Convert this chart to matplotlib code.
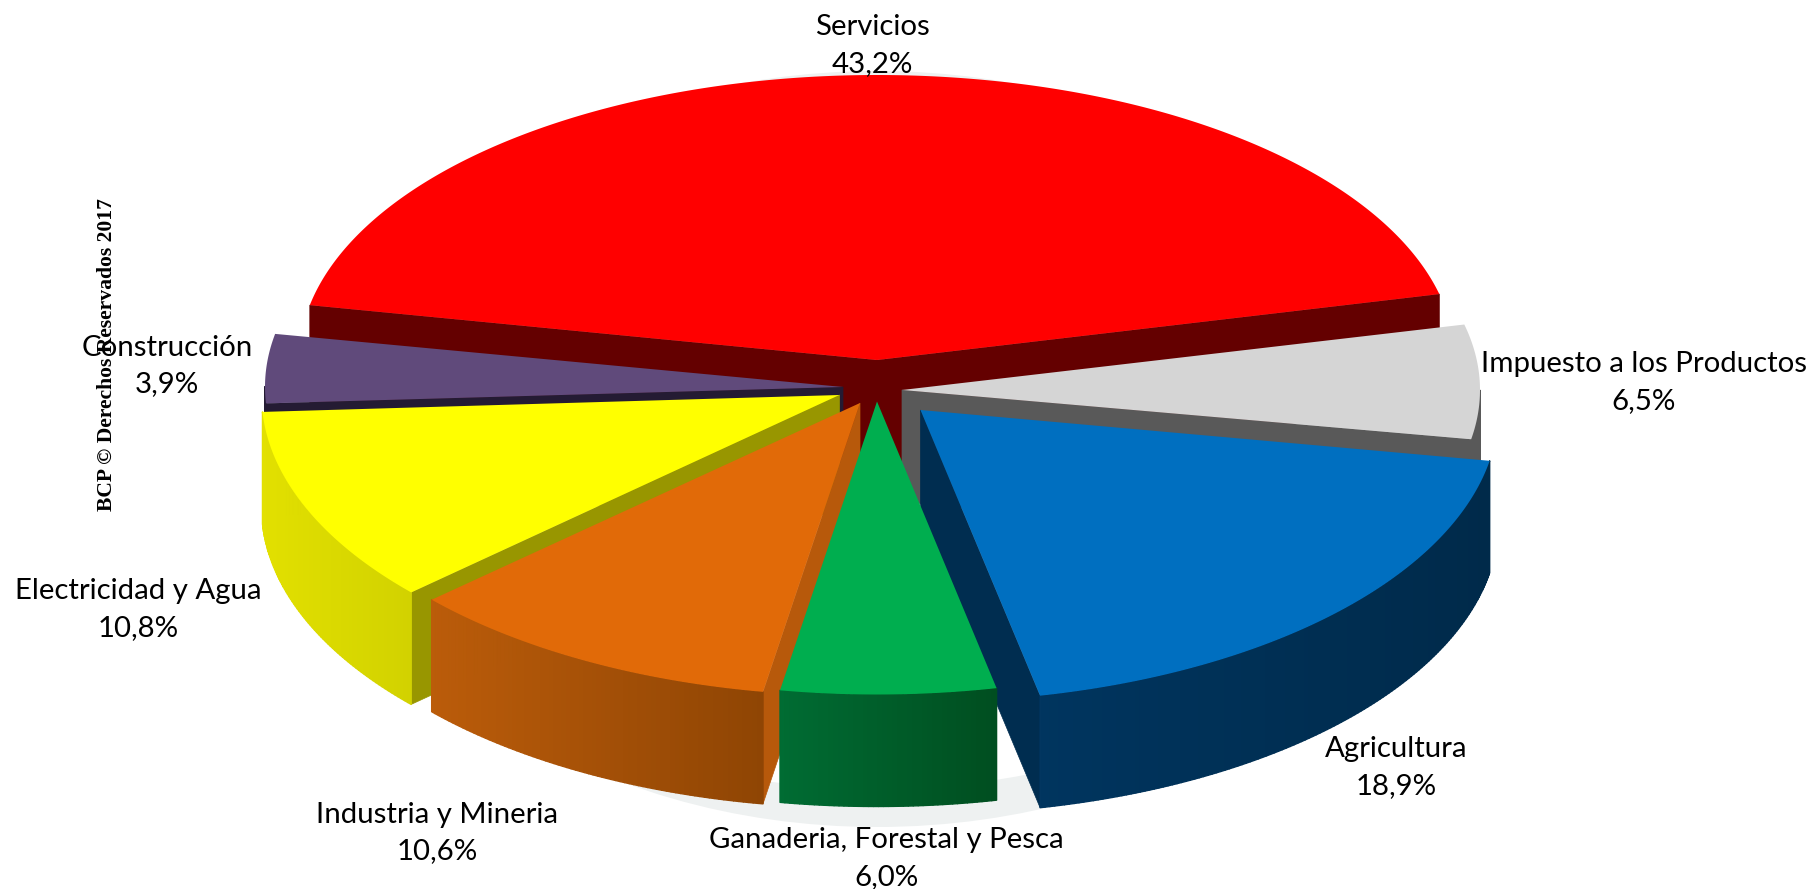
import numpy as np
import matplotlib
matplotlib.use("Agg")
import matplotlib.pyplot as plt
from matplotlib.collections import PolyCollection
from matplotlib.colors import to_rgb
from matplotlib.patches import Ellipse, Polygon

# ---- data ----
sectors = ["Servicios", "Impuesto a los Productos", "Agricultura",
           "Ganaderia, Forestal y Pesca", "Industria y Mineria",
           "Electricidad y Agua", "Construcción"]
shares = [43.2, 6.5, 18.9, 6.0, 10.6, 10.8, 3.9]
share_labels = ["43,2%", "6,5%", "18,9%", "6,0%", "10,6%", "10,8%", "3,9%"]

# ---- styles: per sector (same order) ----
top_colors = ["#ff0000", "#d5d5d5", "#006fc0", "#00ae4f", "#e16a08", "#ffff00", "#604a7b"]
face_colors = ["#640000", "#595959", "#002d50", "#00682f", "#b7590b", "#989600", "#241b33"]
side_from = ["#640000", "#595959", "#00355f", "#006c33", "#bb5c0a", "#e2e000", "#241b33"]
side_to = ["#640000", "#595959", "#002a4a", "#004e20", "#8f4504", "#d2d200", "#241b33"]
apex_x = [877, 902, 920.5, 877, 860, 839.5, 843]
apex_y = [360, 390, 410, 401.5, 403, 395, 387]
radius_y = [285, 283, 292, 293, 293, 294, 285]
label_x = [872, 1644, 1396, 886, 437, 138, 167]
label_y = [27, 364, 749, 840, 814.5, 591, 347.5]
value_y = [64, 401, 786, 877, 851.5, 628, 384.5]
draw_order = [0, 6, 1, 5, 2, 4, 3]
RX = 578
DEPTH = 112
START = 168.9

plt.rcParams["font.family"] = ["Lato", "DejaVu Sans"]
fig = plt.figure(figsize=(18.16, 8.89), dpi=100, facecolor="white")
ax = fig.add_axes([0, 0, 1, 1])
ax.set_xlim(0, 1816)
ax.set_ylim(889, 0)
ax.axis("off")

# faint reflection ring below the pie
ax.add_patch(Ellipse((877, 449), 1076, 756, fc="#eef1f1", ec="none", zorder=0))
ax.add_patch(Ellipse((877, 447), 1040, 684, fc="white", ec="none", zorder=0.5))

# angle limits from the shares, running clockwise
sweeps = np.array(shares) * 3.6
hi = START - np.concatenate([[0], np.cumsum(sweeps)[:-1]])
lo = hi - sweeps


def rim(i, angles):
    t = np.radians(angles)
    return apex_x[i] + RX * np.cos(t), apex_y[i] - radius_y[i] * np.sin(t)


z = 1
for i in draw_order:
    a_lo, a_hi = lo[i], hi[i]
    # radial walls that face the viewer
    for a, visible in ((a_lo, np.cos(np.radians(a_lo)) > 0),
                       (a_hi, np.cos(np.radians(a_hi)) < 0)):
        if visible:
            x, y = rim(i, np.array([a]))
            ax.add_patch(Polygon(
                [(apex_x[i], apex_y[i]), (x[0], y[0]), (x[0], y[0] + DEPTH),
                 (apex_x[i], apex_y[i] + DEPTH)],
                fc=face_colors[i], ec=face_colors[i], lw=0.5, zorder=z))
            z += 1
    # curved wall, only where it faces the viewer
    ang = np.linspace(a_lo, a_hi, int((a_hi - a_lo) * 2) + 2)
    xs, ys = rim(i, ang)
    polys, cols = [], []
    c0, c1 = np.array(to_rgb(side_from[i])), np.array(to_rgb(side_to[i]))
    x_left, x_right = xs.min(), xs.max()
    for k in range(len(ang) - 1):
        if np.sin(np.radians((ang[k] + ang[k + 1]) / 2)) >= 0:
            continue
        polys.append([(xs[k], ys[k]), (xs[k + 1], ys[k + 1]),
                      (xs[k + 1], ys[k + 1] + DEPTH), (xs[k], ys[k] + DEPTH)])
        f = ((xs[k] + xs[k + 1]) / 2 - x_left) / max(x_right - x_left, 1)
        cols.append(tuple(c0 + (c1 - c0) * f))
    if polys:
        ax.add_collection(PolyCollection(polys, facecolors=cols, edgecolors=cols,
                                         linewidths=1.0, zorder=z))
        z += 1
    # top surface
    ax.add_patch(Polygon([(apex_x[i], apex_y[i])] + list(zip(xs, ys)),
                         fc=top_colors[i], ec="none", zorder=z))
    z += 1

for i, name in enumerate(sectors):
    ax.text(label_x[i], label_y[i], name, ha="center", va="center",
            fontsize=21.2, color="black", zorder=100)
    ax.text(label_x[i], value_y[i], share_labels[i], ha="center", va="center",
            fontsize=21.2, color="black", zorder=100)

ax.text(107, 355, "BCP © Derechos Reservados 2017", rotation=90, ha="center", va="center",
        family="Liberation Serif", fontweight="bold", fontsize=15.6, color="black", zorder=101)

fig.savefig("out.png", dpi=100, facecolor="white")
